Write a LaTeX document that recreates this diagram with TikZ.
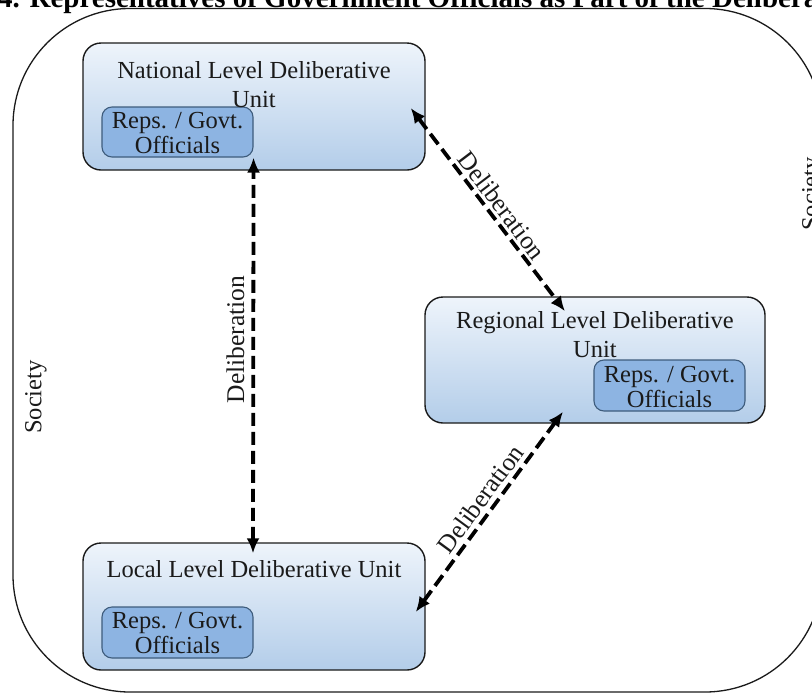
\documentclass[tikz,border=0pt]{standalone}
\usepackage{fontspec}
\setmainfont{Liberation Serif}
\usetikzlibrary{arrows.meta,calc}
\definecolor{boxtop}{HTML}{EEF4FB}
\definecolor{boxbot}{HTML}{B3CDE9}
\definecolor{repsfill}{HTML}{8DB4E2}
\definecolor{repsline}{HTML}{3E5C7C}
\definecolor{ink}{HTML}{1A1A1A}

\begin{document}
\begin{tikzpicture}[x=1pt,y=-1pt,
  framebox/.style={draw=ink, line width=1.3pt, rounded corners=117pt, inner sep=0pt},
  unitbox/.style={draw=ink, line width=1.4pt, rounded corners=18pt,
    top color=boxtop, bottom color=boxbot, inner sep=0pt},
  repsbox/.style={draw=repsline, line width=1.1pt, rounded corners=10pt,
    fill=repsfill, inner sep=0pt},
  lbl/.style={font=\fontsize{24.5}{29}\selectfont, text=ink, inner sep=0pt},
  linklbl/.style={font=\fontsize{25.5}{30}\selectfont, text=ink, inner sep=0pt},
  talk/.style={draw=black, line width=3.8pt, dash pattern=on 13pt off 6pt,
    >={Latex[length=15pt,width=13pt]}, <->}
]
\useasboundingbox (0,0) rectangle (812,694);
\clip (0,0) rectangle (812,694);

% society frame and heading
\node[framebox, minimum width=809pt, minimum height=683.5pt] (society) at (417.5,350.25) {};
\node[anchor=base west, inner sep=0pt, text=black,
  font=\bfseries\fontsize{29}{34}\selectfont] (title) at (-2,7)
  {4. Representatives of Government Officials as Part of the Deliberative};
\node[lbl, rotate=90, anchor=north] (socL) at (25,397) {Society};
\node[lbl, rotate=90, anchor=north] (socR) at (802,194) {Society};

% deliberative units
\node[unitbox, minimum width=342pt, minimum height=127pt] (nat) at (254,106.5) {};
\node[unitbox, minimum width=340pt, minimum height=126pt] (reg) at (595,360) {};
\node[unitbox, minimum width=342pt, minimum height=127pt] (loc) at (254,606.5) {};

% representatives inside each unit
\node[repsbox, minimum width=151pt, minimum height=50pt] (natreps) at (177.5,132) {};
\node[repsbox, minimum width=151pt, minimum height=51pt] (regreps) at (669.5,385.5) {};
\node[repsbox, minimum width=151pt, minimum height=51pt] (locreps) at (177.5,632.5) {};

% unit titles
\node[lbl, anchor=base] (natA) at (254,78) {National Level Deliberative};
\node[lbl, anchor=base] (natB) at (254,107) {Unit};
\node[lbl, anchor=base] (regA) at (595,328) {Regional Level Deliberative};
\node[lbl, anchor=base] (regB) at (595,357) {Unit};
\node[lbl, anchor=base] (locA) at (254,577) {Local Level Deliberative Unit};

% representatives labels
\node[lbl, anchor=base] (natrA) at (177.5,128) {Reps. / Govt.};
\node[lbl, anchor=base] (natrB) at (177.5,153) {Officials};
\node[lbl, anchor=base] (regrA) at (669.5,382) {Reps. / Govt.};
\node[lbl, anchor=base] (regrB) at (669.5,407) {Officials};
\node[lbl, anchor=base] (locrA) at (177.5,628) {Reps. / Govt.};
\node[lbl, anchor=base] (locrB) at (177.5,653) {Officials};

% deliberation links
\draw[talk] ($(loc.north)+(-1,11)$) --
  node[linklbl, sloped, above=7pt, pos=0.54] (dv) {Deliberation} (natreps.south east);
\draw[talk] ($(nat.east)+(-15,1.5)$) --
  node[linklbl, sloped, above=3pt, pos=0.52] (dn) {Deliberation} ($(reg.north)+(-30,15)$);
\draw[talk] ($(loc.east)+(-10,5.5)$) --
  node[linklbl, sloped, above=4pt, pos=0.52] (dl) {Deliberation} ($(reg.south)+(-32,-12)$);
\end{tikzpicture}
\end{document}
